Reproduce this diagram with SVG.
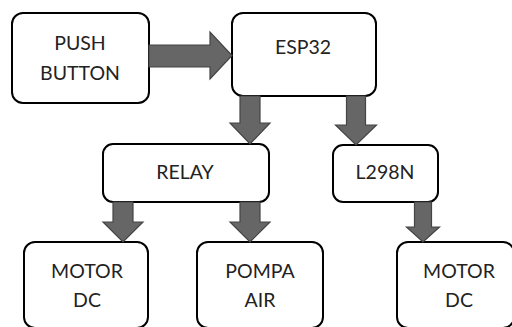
<svg xmlns="http://www.w3.org/2000/svg" width="512" height="327" viewBox="0 0 512 327">
<style>
.box{fill:#fff;stroke:#000;stroke-width:2}
.arr{fill:#666;stroke:#444;stroke-width:1.2;stroke-linejoin:miter}
text{font-family:Lato,"Open Sans","Liberation Sans",sans-serif;font-size:19.5px;fill:#222;text-anchor:middle}
</style>
<rect width="512" height="327" fill="#fff"/>
<g id="push-button"><rect class="box" x="12" y="13" width="137" height="90" rx="11"/><text x="80" y="50">PUSH</text><text x="80" y="80">BUTTON</text></g>
<g id="esp32"><rect class="box" x="232" y="13" width="144" height="83" rx="11"/><text x="303" y="54">ESP32</text></g>
<g id="relay"><rect class="box" x="103" y="144" width="166" height="58" rx="10"/><text x="185" y="179">RELAY</text></g>
<g id="l298n"><rect class="box" x="333" y="145" width="105" height="57" rx="10"/><text x="385" y="179">L298N</text></g>
<g id="motor-dc-1"><rect class="box" x="24" y="242" width="124" height="86" rx="11"/><text x="87" y="278">MOTOR</text><text x="87" y="307">DC</text></g>
<g id="pompa-air"><rect class="box" x="197" y="242" width="126" height="86" rx="11"/><text x="260" y="278">POMPA</text><text x="260" y="307">AIR</text></g>
<g id="motor-dc-2"><rect class="box" x="397" y="242" width="117" height="86" rx="11"/><text x="459" y="278">MOTOR</text><text x="459" y="307">DC</text></g>
<g id="connectors">
<polygon class="arr" points="149,45 210,45 210,32 232,55.5 210,79 210,67 149,67"/>
<polygon class="arr" points="240,96 260,96 260,123 270,123 250,144 230,123 240,123"/>
<polygon class="arr" points="346.5,96 365.5,96 365.5,125 376.5,125 356,145 335.5,125 346.5,125"/>
<polygon class="arr" points="113,202 133,202 133,222 143,222 123,242 103,222 113,222"/>
<polygon class="arr" points="240,202 260,202 260,222 270,222 250,242 230,222 240,222"/>
<polygon class="arr" points="414.5,202 431.5,202 431.5,227 439.5,227 423,242 406.5,227 414.5,227"/>
</g>
</svg>
